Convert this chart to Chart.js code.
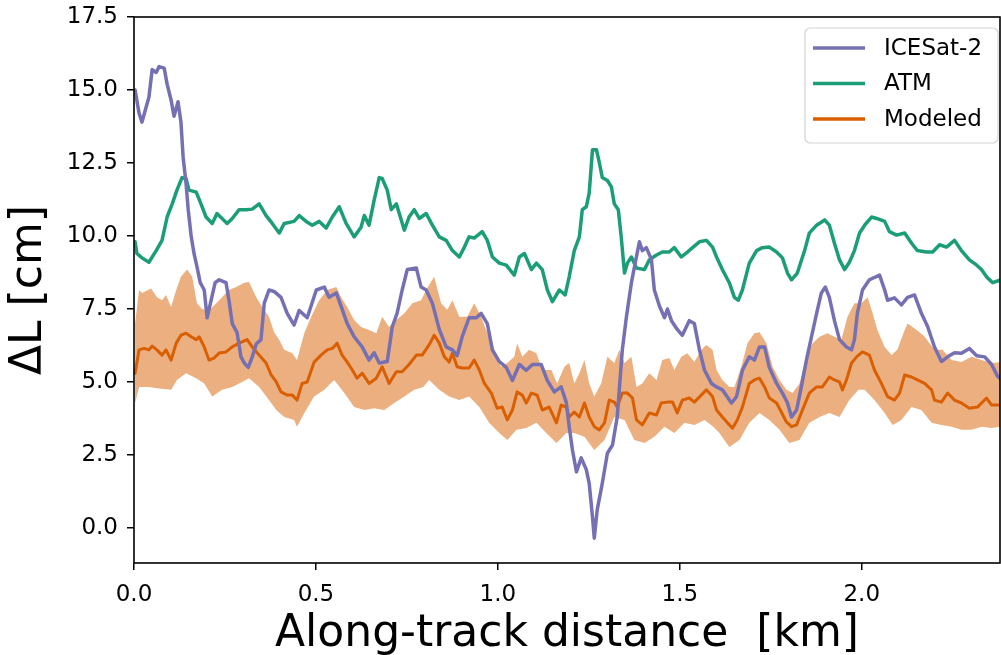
<!DOCTYPE html>
<html>
<head>
<meta charset="utf-8">
<title>ΔL along track</title>
<script src="https://cdn.jsdelivr.net/npm/chart.js@4.4.1/dist/chart.umd.min.js"></script>
<style>
  html, body { margin: 0; padding: 0; background: #fff; }
  canvas { display: block; }
</style>
</head>
<body>
<canvas id="chart" width="1001" height="655"></canvas>
<script>
// along-track distance in km, ΔL in cm
const icesatDist = [0.003,0.014,0.022,0.033,0.041,0.050,0.061,0.069,0.083,0.091,0.102,0.110,0.121,0.129,0.135,0.143,0.149,0.157,0.165,0.173,
  0.182,0.193,0.201,0.212,0.223,0.234,0.253,0.261,0.270,0.283,0.294,0.303,0.314,0.325,0.336,0.349,0.358,0.371,0.385,0.404,
  0.421,0.440,0.454,0.476,0.501,0.523,0.536,0.556,0.569,0.586,0.605,0.627,0.646,0.660,0.674,0.696,0.710,0.723,0.737,0.751,
  0.776,0.789,0.803,0.820,0.839,0.858,0.875,0.888,0.902,0.921,0.941,0.954,0.971,0.985,1.004,1.023,1.040,1.059,1.078,1.095,
  1.119,1.136,1.155,1.174,1.188,1.196,1.205,1.216,1.229,1.243,1.251,1.260,1.265,1.273,1.287,1.301,1.315,1.328,1.342,1.353,
  1.367,1.381,1.389,1.397,1.408,1.422,1.430,1.444,1.458,1.466,1.477,1.493,1.507,1.526,1.540,1.554,1.568,1.587,1.601,1.617,
  1.642,1.656,1.672,1.691,1.705,1.719,1.733,1.746,1.766,1.782,1.796,1.807,1.821,1.834,1.848,1.862,1.876,1.889,1.900,1.911,
  1.925,1.939,1.958,1.972,1.980,1.988,2.002,2.021,2.049,2.063,2.071,2.090,2.109,2.126,2.145,2.164,2.181,2.200,2.219,2.236,
  2.255,2.274,2.296,2.316,2.338,2.357,2.373,2.382];
const icesatVals = [15.0,14.2,13.9,14.4,14.75,15.7,15.6,15.8,15.75,15.2,14.65,14.1,14.6,13.9,12.7,11.8,10.9,10.0,9.4,8.95,
  8.4,8.15,7.2,7.8,8.4,8.5,8.4,7.8,7.0,6.7,5.86,5.65,5.5,5.86,6.3,6.45,7.7,8.15,8.1,7.9,
  7.35,6.95,7.45,7.2,8.15,8.25,7.9,8.05,7.6,7.0,6.55,6.2,5.75,6.0,5.65,5.7,6.9,7.35,8.15,8.85,
  8.9,8.25,8.15,7.7,6.8,6.2,6.1,5.9,6.55,7.2,7.2,7.35,7.0,6.1,5.7,5.5,5.05,5.6,5.4,5.6,
  5.6,5.05,4.66,4.83,4.3,3.47,2.67,1.92,2.4,2.0,1.53,0.38,-0.35,0.62,1.53,2.56,2.84,3.8,6.1,7.2,
  8.4,9.3,9.8,9.5,9.6,9.2,8.15,7.6,7.2,7.5,7.1,6.8,6.6,7.1,7.0,6.1,5.4,4.95,4.83,4.73,
  4.28,4.5,5.4,5.86,5.75,6.2,6.2,5.5,4.95,4.62,4.28,3.8,4.04,4.83,5.75,6.55,7.35,8.05,8.25,7.9,
  7.1,6.45,6.2,6.1,6.45,7.35,8.15,8.5,8.66,8.15,7.8,7.88,7.64,7.9,7.98,7.35,6.9,6.2,5.7,5.86,
  6.0,5.98,6.15,5.9,5.86,5.6,5.2,5.1];

const atmDist = [0.003,0.008,0.022,0.041,0.061,0.077,0.091,0.105,0.118,0.132,0.143,0.151,0.171,0.184,0.198,0.215,0.228,0.242,0.256,0.270,
  0.289,0.308,0.325,0.344,0.363,0.380,0.399,0.413,0.440,0.454,0.473,0.490,0.509,0.528,0.545,0.564,0.583,0.605,0.624,0.633,
  0.646,0.660,0.674,0.682,0.696,0.707,0.721,0.732,0.743,0.756,0.770,0.784,0.803,0.820,0.839,0.858,0.875,0.894,0.908,0.921,
  0.935,0.957,0.971,0.985,1.004,1.023,1.045,1.059,1.073,1.092,1.106,1.122,1.136,1.150,1.169,1.185,1.196,1.210,1.224,1.232,
  1.243,1.251,1.260,1.271,1.279,1.287,1.301,1.312,1.320,1.331,1.339,1.348,1.356,1.367,1.381,1.403,1.416,1.436,1.452,1.471,
  1.485,1.504,1.521,1.535,1.554,1.573,1.590,1.601,1.617,1.636,1.650,1.661,1.672,1.691,1.711,1.727,1.746,1.766,1.782,1.796,
  1.807,1.823,1.843,1.856,1.876,1.898,1.911,1.925,1.939,1.953,1.966,1.980,1.994,2.008,2.027,2.041,2.063,2.076,2.096,2.118,
  2.137,2.153,2.178,2.195,2.214,2.233,2.255,2.274,2.296,2.316,2.329,2.343,2.360,2.382];
const atmVals = [9.8,9.4,9.25,9.1,9.5,9.85,10.65,11.1,11.57,12.0,11.97,11.57,11.5,11.1,10.65,10.43,10.77,10.6,10.43,10.6,
  10.9,10.9,10.92,11.1,10.7,10.43,10.1,10.43,10.5,10.7,10.5,10.37,10.5,10.27,10.65,11.0,10.43,9.97,10.3,10.7,
  10.37,11.23,12.0,11.97,11.57,10.9,11.1,10.65,10.2,10.65,10.9,10.6,10.77,10.37,9.97,9.85,9.5,9.28,9.62,9.97,
  9.93,10.15,9.85,9.28,9.07,9.0,8.66,9.28,9.4,8.85,9.07,8.85,8.15,7.75,8.15,7.98,8.6,9.5,9.97,10.9,
  11.0,11.47,12.95,12.95,12.5,12.0,11.9,11.68,11.1,10.9,9.97,8.73,9.07,9.28,8.9,8.85,9.18,9.35,9.45,9.45,
  9.6,9.28,9.45,9.6,9.8,9.85,9.62,9.28,8.85,8.4,7.9,7.8,8.15,9.07,9.5,9.6,9.62,9.45,9.25,8.73,
  8.5,8.73,9.5,10.1,10.37,10.55,10.37,9.75,9.18,8.85,9.1,9.5,10.1,10.37,10.65,10.6,10.5,10.15,10.03,10.1,
  9.75,9.5,9.45,9.45,9.7,9.62,9.85,9.5,9.18,9.0,8.85,8.6,8.4,8.5];

const modelDist = [0.003,0.014,0.028,0.041,0.050,0.063,0.077,0.088,0.102,0.116,0.129,0.143,0.157,0.171,0.179,0.193,0.206,0.220,0.234,0.253,
  0.270,0.289,0.311,0.325,0.344,0.363,0.377,0.391,0.404,0.421,0.435,0.448,0.462,0.476,0.495,0.514,0.531,0.545,0.558,0.572,
  0.586,0.600,0.613,0.627,0.646,0.666,0.682,0.701,0.721,0.737,0.756,0.776,0.792,0.811,0.825,0.839,0.853,0.866,0.875,0.888,
  0.902,0.921,0.935,0.949,0.963,0.982,0.998,1.012,1.026,1.040,1.053,1.067,1.078,1.092,1.108,1.122,1.141,1.161,1.174,1.188,
  1.196,1.210,1.224,1.238,1.251,1.265,1.279,1.293,1.306,1.320,1.328,1.342,1.356,1.370,1.381,1.397,1.416,1.436,1.449,1.466,
  1.480,1.493,1.507,1.526,1.540,1.559,1.573,1.590,1.601,1.617,1.631,1.645,1.658,1.672,1.691,1.705,1.719,1.733,1.746,1.766,
  1.779,1.793,1.807,1.821,1.837,1.856,1.876,1.892,1.911,1.925,1.939,1.947,1.958,1.972,1.986,2.002,2.021,2.035,2.054,2.071,
  2.090,2.104,2.118,2.137,2.153,2.173,2.192,2.200,2.219,2.236,2.255,2.274,2.296,2.318,2.343,2.357,2.382];
const modelVals = [5.3,6.1,6.15,6.1,6.23,6.1,5.92,6.1,5.75,6.33,6.6,6.67,6.55,6.45,6.55,6.2,5.75,5.82,5.99,6.03,
  6.2,6.33,6.45,6.2,5.92,5.65,5.24,5.0,4.66,4.55,4.55,4.38,4.95,5.0,5.68,5.92,6.1,6.15,6.33,5.92,
  5.68,5.41,5.13,5.3,4.95,5.13,5.52,4.95,5.35,5.35,5.6,5.92,5.92,6.27,6.6,6.33,5.86,5.68,5.98,5.52,
  5.48,5.48,5.75,5.41,4.95,4.62,4.1,4.14,3.7,4.04,4.66,4.55,4.28,4.62,4.55,4.04,4.14,3.6,4.21,4.14,
  3.8,3.97,3.8,4.28,3.8,3.47,3.36,3.6,4.38,4.31,4.14,4.62,4.62,4.45,3.7,3.53,3.94,3.87,4.28,4.31,
  4.31,3.94,4.38,4.45,4.31,4.55,4.73,4.5,4.04,3.8,3.6,3.42,3.7,4.14,4.95,5.07,5.13,4.83,4.45,4.28,
  3.97,3.63,3.47,3.53,4.04,4.62,4.83,4.83,5.17,5.07,5.0,4.73,5.07,5.65,5.86,6.03,5.92,5.41,4.95,4.5,
  4.38,4.62,5.24,5.17,5.07,4.95,4.73,4.38,4.31,4.62,4.38,4.28,4.1,4.14,4.45,4.21,4.21];

const bandHiDist = [0.003,0.014,0.022,0.047,0.063,0.077,0.088,0.102,0.116,0.129,0.146,0.160,0.173,0.187,0.206,0.226,0.242,0.261,0.281,0.303,
  0.316,0.336,0.352,0.371,0.385,0.399,0.413,0.435,0.448,0.468,0.487,0.509,0.531,0.556,0.569,0.586,0.605,0.624,0.646,0.666,
  0.682,0.701,0.721,0.743,0.765,0.789,0.803,0.825,0.844,0.861,0.875,0.894,0.916,0.935,0.954,0.971,0.990,1.009,1.026,1.045,
  1.053,1.067,1.086,1.106,1.122,1.147,1.163,1.183,1.196,1.210,1.224,1.238,1.251,1.265,1.284,1.301,1.320,1.334,1.348,1.367,
  1.381,1.397,1.416,1.436,1.452,1.471,1.485,1.504,1.521,1.540,1.559,1.573,1.590,1.601,1.617,1.636,1.650,1.669,1.686,1.705,
  1.719,1.738,1.755,1.774,1.793,1.810,1.829,1.848,1.865,1.884,1.906,1.925,1.944,1.961,1.980,1.999,2.016,2.030,2.043,2.063,
  2.082,2.098,2.118,2.126,2.151,2.173,2.200,2.222,2.247,2.274,2.302,2.329,2.357,2.382];
const bandHiVals = [7.0,8.15,8.05,8.2,7.9,7.8,7.98,7.57,8.15,8.6,8.85,8.6,7.7,7.5,7.45,7.7,7.9,8.15,8.25,8.4,
  8.42,7.9,7.57,7.23,6.7,6.45,6.1,5.98,5.75,6.67,7.23,7.8,8.15,8.25,7.9,7.57,7.12,6.88,6.78,6.67,
  7.23,6.88,7.12,7.35,7.7,7.8,8.15,8.6,7.7,7.47,7.8,7.23,7.23,7.7,7.23,6.67,5.98,5.52,5.65,5.86,
  6.33,5.86,6.1,5.98,5.41,5.41,4.95,5.52,5.65,4.95,5.3,5.75,4.95,4.5,4.95,5.86,5.65,6.1,5.65,5.86,
  4.83,4.95,5.3,5.07,5.75,5.82,5.41,5.86,5.98,5.68,6.1,6.27,6.1,5.41,5.07,4.83,4.83,5.52,6.33,6.67,
  6.7,6.33,5.52,5.07,4.73,4.62,4.95,5.86,6.33,6.55,6.67,6.55,6.45,7.23,7.7,7.7,7.9,7.35,6.78,6.2,
  5.92,6.1,6.78,7.0,6.78,6.55,6.1,6.1,5.75,5.68,5.86,5.75,5.65,5.68];

const bandLoDist = [0.003,0.014,0.041,0.069,0.102,0.118,0.143,0.171,0.193,0.215,0.242,0.270,0.297,0.316,0.344,0.371,0.391,0.413,0.440,0.448,
  0.468,0.495,0.523,0.550,0.578,0.605,0.633,0.660,0.688,0.715,0.743,0.770,0.795,0.811,0.839,0.866,0.894,0.921,0.949,0.976,
  1.004,1.026,1.051,1.078,1.106,1.133,1.161,1.188,1.210,1.238,1.265,1.293,1.320,1.348,1.375,1.403,1.430,1.458,1.485,1.513,
  1.540,1.568,1.592,1.609,1.636,1.664,1.691,1.719,1.746,1.774,1.801,1.829,1.856,1.884,1.911,1.939,1.966,1.991,2.008,2.035,
  2.063,2.085,2.109,2.137,2.164,2.192,2.219,2.247,2.274,2.302,2.329,2.357,2.382];
const bandLoVals = [4.28,4.83,4.83,4.78,4.73,5.07,5.3,5.13,4.95,4.5,4.73,4.83,5.0,5.13,4.83,4.38,4.04,3.8,3.7,3.47,
  3.94,4.5,4.73,5.07,4.62,4.14,4.04,4.1,4.04,4.28,4.5,4.73,4.83,5.07,4.73,4.5,4.38,4.5,4.14,3.6,
  3.25,3.01,3.36,3.42,3.6,3.25,2.91,3.25,3.25,3.12,2.67,3.01,3.8,3.7,3.01,2.91,3.12,3.47,3.25,3.6,
  3.53,3.7,3.47,3.25,2.77,3.01,3.6,3.94,3.7,3.36,2.91,3.01,3.6,3.8,3.94,3.8,4.38,4.73,4.73,4.38,
  3.94,3.53,3.7,4.14,4.04,3.6,3.53,3.47,3.36,3.36,3.47,3.42,3.47];

const xTicks = [0, 0.5, 1.0, 1.5, 2.0];
const yTicks = [0, 2.5, 5.0, 7.5, 10.0, 12.5, 15.0, 17.5];

const pts = (xs, ys) => xs.map((x, i) => ({ x: x, y: ys[i] }));

Chart.defaults.font.family = '"DejaVu Sans", sans-serif';
Chart.defaults.color = '#000';

// matplotlib-style box around the axes
const frame = {
  id: 'frame',
  afterDatasetsDraw(chart) {
    const { ctx, chartArea: a } = chart;
    ctx.save();
    ctx.strokeStyle = '#000';
    ctx.lineWidth = 1.6;
    ctx.strokeRect(a.left, a.top, a.right - a.left, a.bottom - a.top);
    ctx.restore();
  }
};

// legend box in the upper right corner of the axes
const boxLegend = {
  id: 'boxLegend',
  afterDraw(chart) {
    const { ctx, chartArea: a } = chart;
    const items = chart.data.datasets.filter(d => d.inLegend);
    const w = 193, h = 115, r = 5;
    const x = a.right - w - 2, y = a.top + 11;
    ctx.save();
    ctx.beginPath();
    ctx.roundRect(x, y, w, h, r);
    ctx.fillStyle = 'rgba(255,255,255,0.8)';
    ctx.fill();
    ctx.strokeStyle = '#d3d3d3';
    ctx.lineWidth = 1.2;
    ctx.stroke();
    ctx.font = '23px "DejaVu Sans"';
    ctx.textBaseline = 'middle';
    ctx.fillStyle = '#000';
    items.forEach((d, i) => {
      const ly = y + 20 + i * 35.5;
      ctx.beginPath();
      ctx.moveTo(x + 8, ly);
      ctx.lineTo(x + 60, ly);
      ctx.strokeStyle = d.borderColor;
      ctx.lineWidth = 3.5;
      ctx.stroke();
      ctx.fillText(d.label, x + 79, ly + 1);
    });
    ctx.restore();
  }
};

new Chart(document.getElementById('chart'), {
  type: 'line',
  data: {
    datasets: [
      { label: 'ICESat-2', data: pts(icesatDist, icesatVals), borderColor: '#7570b3', borderWidth: 3.5, inLegend: true },
      { label: 'ATM', data: pts(atmDist, atmVals), borderColor: '#1b9e77', borderWidth: 3.5, inLegend: true },
      { label: 'Modeled', data: pts(modelDist, modelVals), borderColor: '#d95f02', borderWidth: 3, inLegend: true },
      { label: 'Modeled upper', data: pts(bandHiDist, bandHiVals), borderColor: 'transparent', borderWidth: 0, fill: false },
      { label: 'Modeled lower', data: pts(bandLoDist, bandLoVals), borderColor: 'transparent', borderWidth: 0,
        fill: '-1', backgroundColor: 'rgba(217,95,2,0.5)' }
    ]
  },
  options: {
    responsive: false,
    animation: false,
    events: [],
    elements: { point: { radius: 0 }, line: { tension: 0, borderJoinStyle: 'round', borderCapStyle: 'round' } },
    layout: { padding: { top: 17, right: 1, bottom: 0, left: 0 } },
    plugins: { legend: { display: false }, tooltip: { enabled: false } },
    scales: {
      x: {
        type: 'linear',
        min: 0,
        max: 2.38,
        afterBuildTicks: s => { s.ticks = xTicks.map(v => ({ value: v })); },
        afterFit: s => { s.height = 92; s.paddingLeft = 0; s.paddingRight = 0; },
        ticks: { font: { size: 23 }, padding: 11, callback: v => v.toFixed(1) },
        grid: { drawOnChartArea: false, drawTicks: true, tickLength: 7, color: '#000', lineWidth: 1.5 },
        border: { display: false },
        title: { display: true, text: 'Along-track distance  [km]', font: { size: 44, lineHeight: 0.9 }, padding: { top: 0, bottom: 1 } }
      },
      y: {
        min: -1.2,
        max: 17.5,
        afterBuildTicks: s => { s.ticks = yTicks.map(v => ({ value: v })); },
        afterFit: s => { s.width = 134; s.paddingTop = 0; s.paddingBottom = 0; },
        ticks: { font: { size: 23 }, padding: 9, callback: v => v.toFixed(1) },
        grid: { drawOnChartArea: false, drawTicks: true, tickLength: 7, color: '#000', lineWidth: 1.5 },
        border: { display: false },
        title: { display: true, text: 'ΔL [cm]', font: { size: 44 }, padding: { top: 3, bottom: 0 } }
      }
    }
  },
  plugins: [frame, boxLegend]
});
</script>
</body>
</html>
